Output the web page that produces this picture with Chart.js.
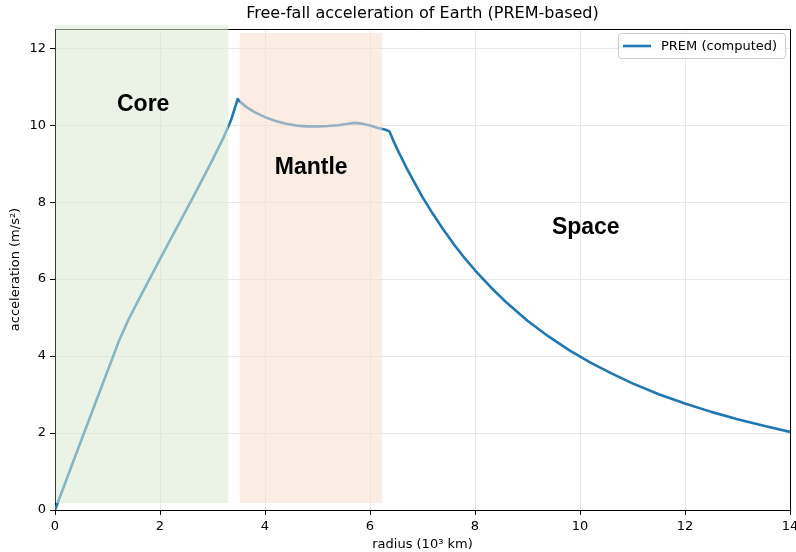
<!DOCTYPE html>
<html>
<head>
<meta charset="utf-8">
<script src="https://cdn.jsdelivr.net/npm/chart.js@4.4.0/dist/chart.umd.min.js"></script>
<style>
  html, body { margin: 0; padding: 0; background: #fff; }
  #wrap { width: 796px; height: 552px; position: relative; }
</style>
</head>
<body>
<div id="wrap"><canvas id="gravity"></canvas></div>
<script>
'use strict';

// data (radius in 10^3 km, acceleration in m/s^2)
const radius = [0, 0.4, 0.8, 1.22, 1.4, 1.6, 1.8, 2.0, 2.2, 2.4, 2.6, 2.8, 3.0, 3.2, 3.35, 3.48,
  3.55, 3.65, 3.8, 4.0, 4.2, 4.4, 4.6, 4.8, 5.0, 5.2, 5.4, 5.55, 5.7, 5.85, 6.0, 6.15, 6.3, 6.37,
  6.45, 6.55, 6.7, 6.85, 7.0, 7.2, 7.4, 7.6, 7.8, 8.0, 8.3, 8.6, 9.0, 9.4, 9.8, 10.2, 10.6, 11.0,
  11.5, 12, 12.5, 13, 13.5, 14];
const accel = [0, 1.45, 2.89, 4.40, 4.95, 5.48, 6.00, 6.52, 7.03, 7.54, 8.05, 8.57, 9.10, 9.65, 10.12, 10.68,
  10.58, 10.47, 10.34, 10.21, 10.11, 10.04, 9.99, 9.97, 9.97, 9.98, 10.00, 10.03, 10.06, 10.04, 9.99, 9.93, 9.88, 9.84,
  9.58, 9.29, 8.88, 8.50, 8.13, 7.69, 7.28, 6.90, 6.55, 6.23, 5.79, 5.39, 4.92, 4.51, 4.15, 3.83, 3.55, 3.29,
  3.01, 2.77, 2.55, 2.36, 2.19, 2.03];

const xTicks = [0, 2, 4, 6, 8, 10, 12, 14];
const yTicks = [0, 2, 4, 6, 8, 10, 12];

// shaded zones: [r0, r1, g0, g1]
const zoneBounds = [[0.01, 3.3, 0.18, 12.6], [3.52, 6.23, 0.18, 12.4]];
const zoneColors = ['rgba(219,233,210,0.55)', 'rgba(248,222,204,0.55)'];

// region labels
const labelText = ['Core', 'Mantle', 'Space'];
const labelR = [1.68, 4.88, 10.11];
const labelG = [10.53, 8.9, 7.33];

const titleText = 'Free-fall acceleration of Earth (PREM-based)';

Chart.defaults.font.family = 'DejaVu Sans';
Chart.defaults.font.size = 13;
Chart.defaults.color = '#000';

const decor = {
  id: 'decor',
  beforeDatasetsDraw(chart) {
    // top and right spines
    const {ctx, chartArea: a} = chart;
    ctx.save();
    ctx.strokeStyle = '#000';
    ctx.lineWidth = 1;
    ctx.beginPath();
    ctx.moveTo(a.left, a.top + 0.5);
    ctx.lineTo(a.right + 0.5, a.top + 0.5);
    ctx.lineTo(a.right + 0.5, a.bottom);
    ctx.stroke();
    ctx.restore();
  },
  afterDatasetsDraw(chart) {
    const {ctx, scales: {x, y}} = chart;
    ctx.save();
    zoneBounds.forEach((b, i) => {
      const x0 = x.getPixelForValue(b[0]), x1 = x.getPixelForValue(b[1]);
      const y0 = y.getPixelForValue(b[3]), y1 = y.getPixelForValue(b[2]);
      ctx.fillStyle = zoneColors[i];
      ctx.fillRect(x0, y0, x1 - x0, y1 - y0);
    });
    ctx.fillStyle = '#000';
    ctx.font = 'bold 23px "Liberation Sans"';
    ctx.textAlign = 'center';
    ctx.textBaseline = 'middle';
    labelText.forEach((t, i) => {
      ctx.fillText(t, x.getPixelForValue(labelR[i]), y.getPixelForValue(labelG[i]));
    });
    ctx.restore();
  },
  afterDraw(chart) {
    const {ctx, chartArea: a} = chart;
    ctx.save();
    // title centred over the axes
    ctx.fillStyle = '#000';
    ctx.font = '16px "DejaVu Sans"';
    ctx.textAlign = 'center';
    ctx.textBaseline = 'middle';
    ctx.fillText(titleText, (a.left + a.right) / 2, 14);

    // legend box in upper right
    const ds = chart.data.datasets[0];
    const w = 167, h = 25;
    const lx = a.right - 5 - w, ly = a.top + 4;
    ctx.beginPath();
    ctx.roundRect(lx + 0.5, ly + 0.5, w, h, 3);
    ctx.fillStyle = 'rgba(255,255,255,0.8)';
    ctx.fill();
    ctx.strokeStyle = '#cccccc';
    ctx.lineWidth = 1;
    ctx.stroke();
    ctx.strokeStyle = ds.borderColor;
    ctx.lineWidth = ds.borderWidth;
    ctx.beginPath();
    ctx.moveTo(lx + 5, ly + h / 2 + 0.5);
    ctx.lineTo(lx + 33, ly + h / 2 + 0.5);
    ctx.stroke();
    ctx.fillStyle = '#000';
    ctx.font = '13px "DejaVu Sans"';
    ctx.textAlign = 'left';
    ctx.fillText(ds.label, lx + 43, ly + h / 2 + 1);
    ctx.restore();
  }
};

const ctx = document.getElementById('gravity');

window.gravityChart = new Chart(ctx, {
  type: 'line',
  data: {
    datasets: [{
      label: 'PREM (computed)',
      data: radius.map((r, i) => ({x: r, y: accel[i]})),
      borderColor: '#1f77b4',
      borderWidth: 2.6,
      borderJoinStyle: 'round',
      pointRadius: 0,
      tension: 0,
      fill: false
    }]
  },
  options: {
    responsive: true,
    maintainAspectRatio: false,
    animation: false,
    layout: {
      padding: {left: 0, right: 6, top: 29, bottom: 0}
    },
    plugins: {
      legend: { display: false },
      tooltip: { enabled: false },
      title: { display: false }
    },
    scales: {
      x: {
        type: 'linear',
        min: 0,
        max: 14,
        afterBuildTicks: s => { s.ticks = xTicks.map(v => ({value: v})); },
        afterFit: s => { s.height = 42; s.paddingLeft = 0; s.paddingRight = 0; },
        title: {
          display: true,
          text: 'radius (10³ km)',
          color: '#000',
          padding: { top: 0, bottom: 0 }
        },
        ticks: { color: '#000', padding: 4, maxRotation: 0 },
        grid: { color: '#e8e8e8', tickColor: '#000', tickLength: 5 },
        border: { color: '#000' }
      },
      y: {
        min: 0,
        max: 12.5,
        afterBuildTicks: s => { s.ticks = yTicks.map(v => ({value: v})); },
        afterFit: s => { s.width = 55; s.paddingTop = 0; s.paddingBottom = 0; },
        title: {
          display: true,
          text: 'acceleration (m/s²)',
          color: '#000',
          padding: { top: 8, bottom: 0 }
        },
        ticks: { color: '#000', padding: 4 },
        grid: { color: '#e8e8e8', tickColor: '#000', tickLength: 5 },
        border: { color: '#000' }
      }
    }
  },
  plugins: [decor]
});
</script>
</body>
</html>
